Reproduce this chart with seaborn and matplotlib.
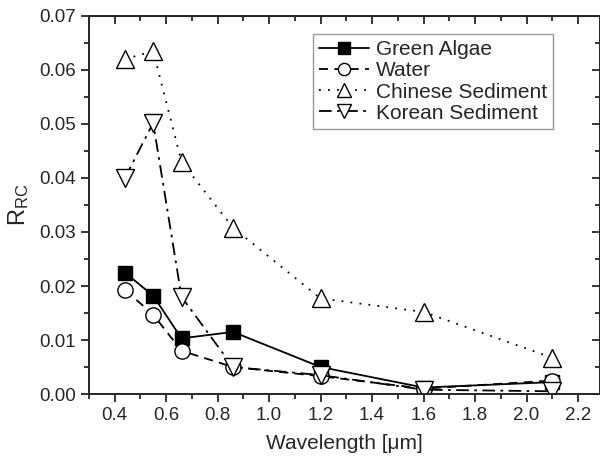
import matplotlib
matplotlib.use('Agg')
import matplotlib.pyplot as plt
import seaborn as sns
from matplotlib.ticker import MultipleLocator

# values
wavelength = [0.44, 0.55, 0.66, 0.86, 1.2, 1.6, 2.1]
green_algae = [0.0225, 0.0182, 0.0103, 0.0115, 0.0050, 0.0012, 0.0022]
water = [0.0193, 0.0147, 0.0080, 0.0050, 0.0033, 0.0010, 0.0025]
chinese_sediment = [0.0620, 0.0635, 0.0430, 0.0308, 0.0177, 0.0152, 0.0067]
korean_sediment = [0.0400, 0.0502, 0.0180, 0.0050, 0.0035, 0.0008, 0.0005]

series = [
    ('Green Algae', green_algae, 's', 'black', '-', 10),
    ('Water', water, 'o', 'white', (0, (5, 3.5)), 11),
    ('Chinese Sediment', chinese_sediment, '^', 'white', (0, (1, 4)), 13),
    ('Korean Sediment', korean_sediment, 'v', 'white', (0, (7, 3, 1.5, 3)), 13),
]

sns.set_style('ticks')
plt.rcParams['font.family'] = ['Liberation Sans', 'DejaVu Sans']
plt.rcParams['mathtext.fontset'] = 'custom'
plt.rcParams['mathtext.rm'] = 'Liberation Sans'

fig = plt.figure(figsize=(6, 4.63), dpi=100)
ax = fig.add_axes([0.148, 0.149, 0.852, 0.8165])

for name, vals, mk, fc, ls, ms in series:
    sns.lineplot(x=wavelength, y=vals, ax=ax, color='black', linewidth=1.3,
                 linestyle=ls, marker=mk, markersize=ms, markerfacecolor=fc,
                 markeredgecolor='black', markeredgewidth=1.0, label=name)

ax.set_xlim(0.3, 2.285)
ax.set_ylim(0, 0.07)
ax.xaxis.set_minor_locator(MultipleLocator(0.1))
ax.yaxis.set_major_locator(MultipleLocator(0.01))
ax.yaxis.set_minor_locator(MultipleLocator(0.005))
ax.set_xticks([0.4, 0.6, 0.8, 1.0, 1.2, 1.4, 1.6, 1.8, 2.0, 2.2])
ax.set_yticklabels([f'{v:.2f}' for v in ax.get_yticks()])
ax.set_xticklabels([f'{v:.1f}' for v in ax.get_xticks()])

ax.tick_params(which='both', direction='out', width=1.3, labelsize=13.5,
               top=False, right=False)
ax.tick_params(which='major', length=6)
ax.tick_params(which='minor', length=3.5)
for s in ax.spines.values():
    s.set_linewidth(1.4)
    s.set_visible(True)

# top/right ticks point inward, like the reference
ax2 = ax.secondary_xaxis('top')
ax2.set_xticks([0.4, 0.6, 0.8, 1.0, 1.2, 1.4, 1.6, 1.8, 2.0, 2.2])
ax2.xaxis.set_minor_locator(MultipleLocator(0.1))
ax2.tick_params(which='both', direction='in', width=1.3)
ax2.tick_params(which='major', length=6)
ax2.tick_params(which='minor', length=3.5)
ax2.set_xticklabels([])
ax3 = ax.secondary_yaxis('right')
ax3.yaxis.set_major_locator(MultipleLocator(0.01))
ax3.yaxis.set_minor_locator(MultipleLocator(0.005))
ax3.tick_params(which='both', direction='in', width=1.3)
ax3.tick_params(which='major', length=6)
ax3.tick_params(which='minor', length=3.5)
ax3.set_yticklabels([])

ax.set_xlabel('Wavelength [\u03bcm]', fontsize=15, labelpad=7)
ax.set_ylabel(r'$\mathregular{R_{RC}}$', fontsize=17, labelpad=6)

leg = ax.legend(loc='upper right', bbox_to_anchor=(0.908, 0.952), fontsize=15,
                frameon=True, fancybox=False, edgecolor='#808080',
                handlelength=2.4, handletextpad=0.3, borderpad=0.3,
                labelspacing=0.1, borderaxespad=0, markerscale=0.8)
leg.get_frame().set_linewidth(1.0)

fig.savefig('out.png', dpi=100)
